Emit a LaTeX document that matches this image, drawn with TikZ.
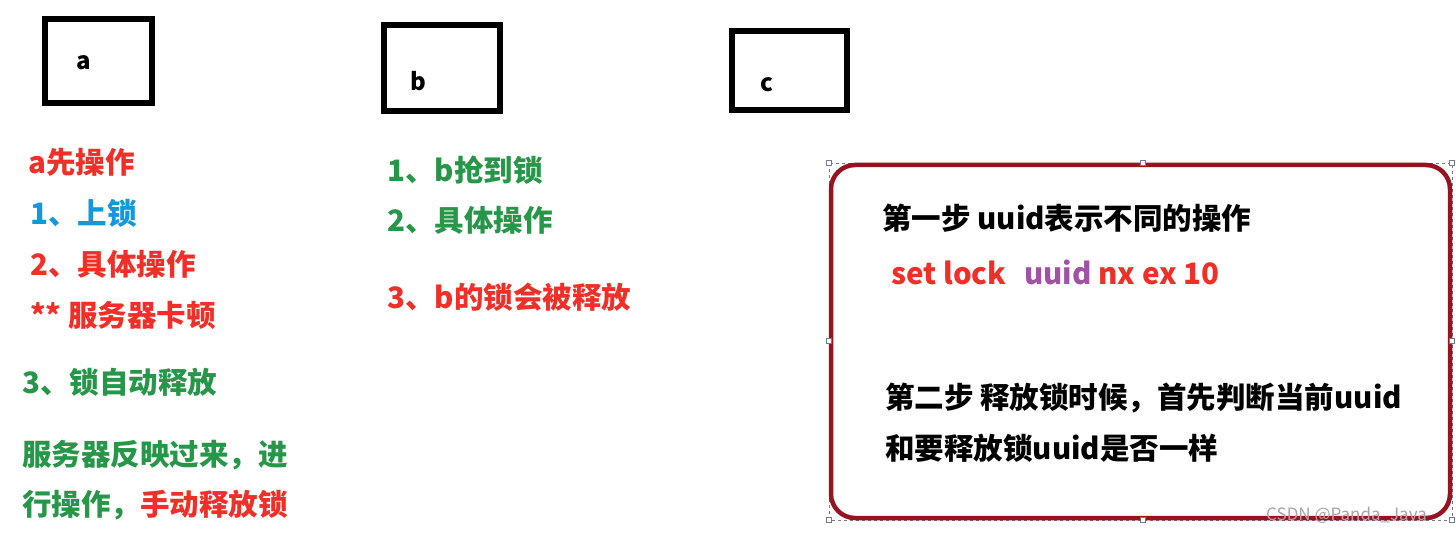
\documentclass[tikz,border=0pt]{standalone}
\usepackage{fontspec}
\newfontfamily\cjk{Noto Sans CJK SC}
\definecolor{myred}{RGB}{240,48,40}
\definecolor{myblue}{RGB}{22,150,220}
\definecolor{mygreen}{RGB}{38,150,72}
\definecolor{mypurple}{RGB}{162,82,165}
\definecolor{boxred}{RGB}{150,20,32}
\definecolor{handle}{RGB}{120,120,140}
\tikzset{
  txt/.style={anchor=west,inner sep=0pt,font=\cjk\bfseries\fontsize{29.5}{32}\selectfont},
  sqbox/.style={draw=black,line width=6pt},
  boxlabel/.style={inner sep=0pt,font=\cjk\bfseries\fontsize{24}{26}\selectfont},
  hnd/.style={draw=handle,fill=white,line width=0.8pt,minimum size=5pt,inner sep=0pt}
}
\begin{document}
\begin{tikzpicture}[x=1pt,y=-1pt]
\useasboundingbox[fill=white] (0,0) rectangle (1456,534);
% top boxes
\draw[sqbox] (45,19) rectangle (152,103);
\node[boxlabel] (la) at (84,63) {a};
\draw[sqbox] (384,25) rectangle (500,111);
\node[boxlabel] (lb) at (418,81) {b};
\draw[sqbox] (732,31) rectangle (847,110);
\node[boxlabel] (lc) at (767,85) {c};
% left column
\node[txt,text=myred] (a1) at (28,162) {a先操作};
\node[txt,text=myblue] (a2) at (30,213) {1、上锁};
\node[txt,text=myred] (a3) at (30,264) {2、具体操作};
\node[txt,text=myred] (a4) at (30,315) {** 服务器卡顿};
\node[txt,text=mygreen] (a5) at (22,382) {3、锁自动释放};
\node[txt,text=mygreen] (a6) at (22,455) {服务器反映过来，进};
\node[txt,text=mygreen] (a7) at (22,505) {行操作，\textcolor{myred}{手动释放锁}};
% middle column
\node[txt,text=mygreen] (b1) at (387,170) {1、b抢到锁};
\node[txt,text=mygreen] (b2) at (387,220) {2、具体操作};
\node[txt,text=myred] (b3) at (387,297) {3、b的锁会被释放};
% right box
\draw[handle,dashed,line width=0.6pt] (829,163) rectangle (1452,520);
\draw[boxred,line width=4.5pt,rounded corners=24pt] (831,165) rectangle (1450,518);
\foreach \p in {(829,163),(1143,163),(1452,163),(829,341),(1452,341),(829,520),(1143,520),(1452,520)}
  \node[hnd] at \p {};
\node[txt,text=black] (c1) at (882,218) {第一步 uuid表示不同的操作};
\node[txt,text=myred] (c2) at (891,272) {set lock\hspace{0.6em}\textcolor{mypurple}{uuid} nx ex 10};
\node[txt,text=black] (c3) at (885,398) {第二步 释放锁时候，首先判断当前uuid};
\node[txt,text=black] (c4) at (885,448) {和要释放锁uuid是否一样};
\node[anchor=west,inner sep=0pt,text=gray!70,font=\cjk\fontsize{17}{19}\selectfont] (wm) at (1266,515) {CSDN @Panda\_Java};
\end{tikzpicture}
\end{document}
